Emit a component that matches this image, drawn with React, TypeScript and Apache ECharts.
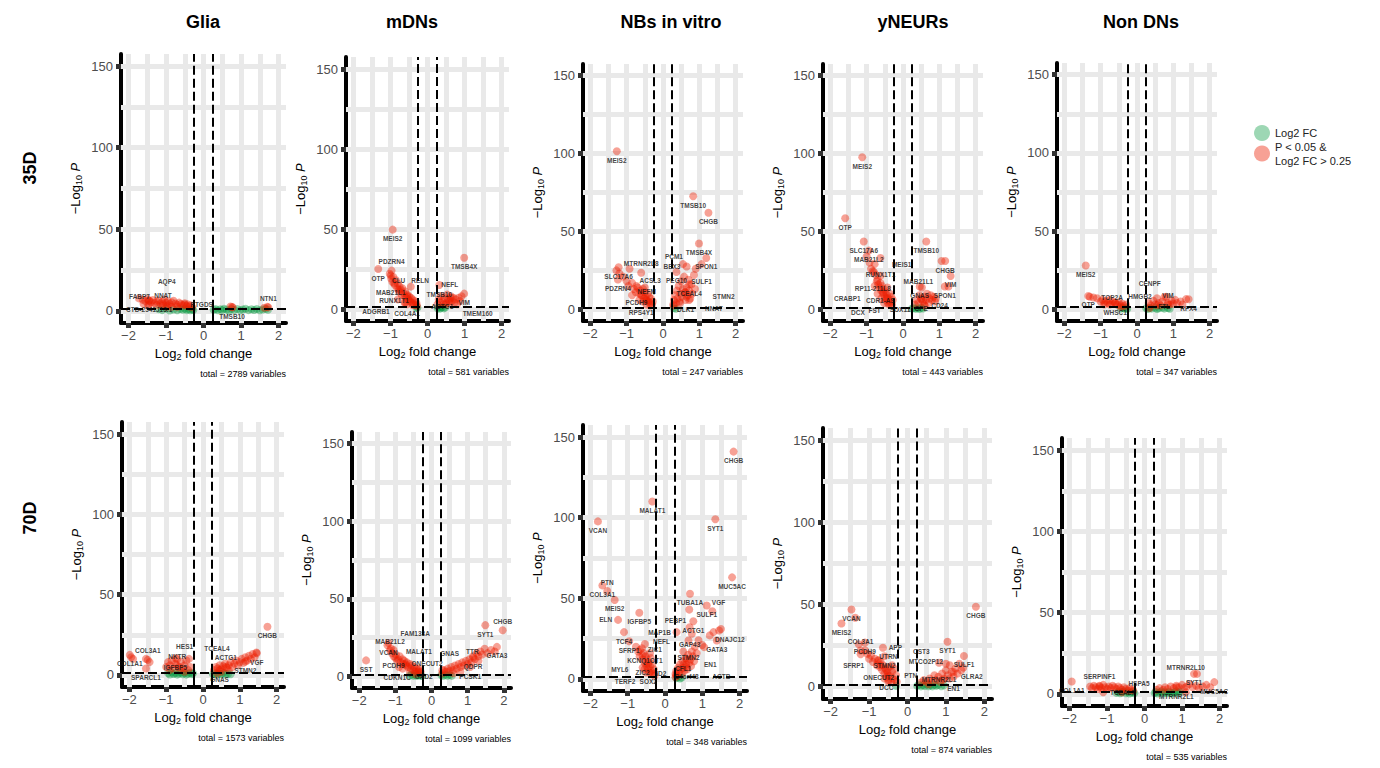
import React, { useEffect, useRef } from "react";
import * as echarts from "echarts";

type Pt = [number, number];
type Gene = [number, number, string];

const cellTypes = ["Glia", "mDNs", "NBs in vitro", "yNEURs", "Non DNs"];
const stages = ["35D", "70D"];
const totals = [2789, 581, 247, 443, 347, 1573, 1099, 348, 874, 535];
const xTicks = [-2, -1, 0, 1, 2];
const yTicks = [0, 50, 100, 150];
const xGridValues = [-2, -1.5, -1, -0.5, 0, 0.5, 1, 1.5, 2];
const yGridValues = [0, 25, 50, 75, 100, 125, 150];
const fcCut = 0.25;
const pCut = 1.3;
const legendNames = ["Log2 FC", "P < 0.05 &\nLog2 FC > 0.25"];

// ---------- Glia 35D ----------
const glia35Sig: Pt[] = [[-1.72,7.6],[-1.62,6.8],[-1.55,5.9],[-1.5,7.2],[-1.45,6.1],[-1.4,5.2],[-1.35,6.6],[-1.3,4.8],[-1.25,5.7],[-1.2,6.3],[-1.15,4.4],[-1.1,5.5],[-1.05,6.9],[-1.0,4.9],[-0.95,5.8],[-0.9,4.1],[-0.85,5.2],[-0.8,6.1],[-0.75,4.5],[-0.7,3.6],[-0.65,5.0],[-0.6,4.2],[-0.55,3.4],[-0.5,4.6],[-0.45,3.0],[-0.42,3.9],[-0.38,2.6],[-0.34,3.3],[-0.3,2.2],[-1.6,4.3],[-1.25,3.5],[-0.95,3.2],[-0.7,2.5],[-1.45,3.8],[-1.1,2.9],[-0.85,2.4],[0.72,2.6],[0.78,2.1],[1.7,2.4],[1.62,1.9]];
const glia35Fc: Pt[] = [[-1.2,1.0],[-1.1,0.4],[-1.0,1.3],[-0.9,0.2],[-0.8,0.8],[-0.7,0.3],[-0.62,1.1],[-0.55,0.6],[-0.5,1.2],[-0.45,0.4],[-0.4,0.9],[-0.35,0.3],[-0.3,1.0],[-0.27,0.5],[0.27,0.6],[0.32,1.1],[0.38,0.3],[0.45,0.9],[0.5,0.4],[0.55,1.2],[0.62,0.7],[0.68,0.2],[0.75,1.0],[0.82,0.5],[0.9,1.1],[0.98,0.3],[1.05,0.8],[1.12,1.2],[1.2,0.4],[1.28,0.9],[1.35,0.5],[1.42,1.1],[1.5,0.3],[1.58,0.8],[1.66,1.2],[1.72,0.6]];
const glia35Genes: Gene[] = [[-1.45,6.3,"CTD-2541J13.1"],[-1.48,3.2,"FABP7"],[-1.08,4.0,"NNAT"],[-0.98,2.4,"AQP4"],[-0.5,3.9,"PTGDS"],[0.76,2.3,"TMSB10"],[1.73,2.1,"NTN1"]];

// ---------- mDNs 35D ----------
const mdn35Sig: Pt[] = [[-1.02,22],[-0.98,19],[-0.95,17],[-0.92,20],[-0.88,15],[-0.85,18],[-0.82,13],[-0.8,16],[-0.77,11],[-0.75,14],[-0.72,12],[-0.7,9],[-0.68,13],[-0.65,10],[-0.62,8],[-0.6,11],[-0.58,7],[-0.55,9],[-0.52,6],[-0.5,8],[-0.48,5],[-0.45,7],[-0.43,4],[-0.4,6],[-0.38,3.5],[-0.35,5],[-0.33,2.5],[-0.3,4],[-0.28,2],[-0.45,14],[-0.62,4],[-0.8,6],[-0.55,3],[0.27,3],[0.3,6],[0.33,4],[0.36,8],[0.4,5],[0.43,3],[0.46,7],[0.5,4],[0.53,9],[0.56,6],[0.6,3.5],[0.63,8],[0.66,5],[0.7,7],[0.73,4],[0.76,6],[0.8,3],[0.84,7],[0.88,5],[0.92,8]];
const mdn35Fc: Pt[] = [[0.27,0.5],[0.3,1.1],[0.33,0.2],[0.36,0.8],[0.4,1.2],[0.44,0.4],[0.48,0.9],[-0.3,0.6],[-0.27,1.0]];
const mdn35Genes: Gene[] = [[-0.94,49.6,"MEIS2"],[-1.33,25,"OTP"],[0.99,32,"TMSB4X"],[0.32,15,"TMSB10"],[0.99,9.6,"VIM"],[0.63,7,"ACTG1"],[-0.97,24,"PDZRN4"],[-0.99,21,"MAB21L1"],[-0.9,16,"RUNX1T1"],[-0.78,12,"CLU"],[-0.55,8,"COL4A1"],[-0.6,4,"ADGRB1"],[-0.4,2.5,"RELN"],[0.5,3,"TMEM160"],[0.6,5,"NEFL"]];

// ---------- NBs in vitro 35D ----------
const nb35Sig: Pt[] = [[-1.28,25],[-1.2,23],[-1.1,21],[-0.92,26],[-1.0,18],[-0.95,15],[-0.85,17],[-0.8,13],[-0.75,11],[-0.7,14],[-0.65,10],[-0.62,12],[-0.58,9],[-0.55,13],[-0.52,7],[-0.5,11],[-0.48,8],[-0.45,6],[-0.42,10],[-0.4,5],[-0.38,8],[-0.35,4],[-0.33,7],[-0.3,3],[-0.28,5],[-0.45,3],[-0.55,5],[-0.65,6],[-0.85,9],[-0.5,14],[0.28,3],[0.3,6],[0.33,9],[0.36,4],[0.38,12],[0.4,7],[0.43,15],[0.45,5],[0.48,10],[0.5,18],[0.52,8],[0.55,13],[0.58,21],[0.6,11],[0.62,6],[0.65,14],[0.68,9],[0.7,19],[0.72,12],[0.75,7],[0.78,16],[0.8,10],[0.85,22],[0.88,13],[0.9,26],[0.55,29],[0.47,4]];
const nb35Fc: Pt[] = [[0.3,0.8],[0.35,0.4]];
const nb35Genes: Gene[] = [[-1.27,101.5,"MEIS2"],[0.83,72.6,"TMSB10"],[1.25,62,"CHGB"],[0.99,42.3,"TMSB4X"],[1.19,33,"SPON1"],[1.06,29,"SULF1"],[0.65,27.5,"BEX3"],[0.37,24,"PEG10"],[0.72,16,"TCEAL4"],[-1.22,27,"SLC17A6"],[-0.6,23.5,"MTRNR2L8"],[-1.24,19.2,"PDZRN4"],[-0.73,15,"PCDH9"],[-0.6,9,"RPS4Y1"],[-0.45,5.5,"NEFM"],[-0.35,2.5,"ACSL3"],[0.3,2.5,"PCM1"],[0.62,11,"DLK1"],[0.65,8,"STMN2"],[0.72,6,"NNAT"]];

// ---------- yNEURs 35D ----------
const yn35Sig: Pt[] = [[-1.0,34],[-0.92,30],[-0.88,26],[-0.8,24],[-0.75,22],[-0.7,19],[-0.68,16],[-0.65,14],[-0.62,17],[-0.6,12],[-0.58,15],[-0.55,10],[-0.53,13],[-0.5,8],[-0.48,11],[-0.46,6],[-0.44,9],[-0.42,4],[-0.4,7],[-0.38,3],[-0.36,10],[-0.34,5],[-0.32,8],[-0.3,3],[-0.28,6],[-0.52,4],[-0.6,7],[-0.7,10],[-0.43,14],[0.33,3],[0.38,6],[0.42,4],[0.45,9],[0.5,7],[0.52,14],[0.55,5],[0.6,8],[0.63,6],[0.66,10],[0.7,4],[0.73,7],[0.76,9],[0.8,6],[0.84,8],[0.88,5],[0.9,7],[0.58,3],[1.06,31],[1.25,14.6]];
const yn35Fc: Pt[] = [[0.25,0.5],[0.3,1.1],[0.35,0.3],[0.4,0.9],[0.45,0.2],[0.5,1.0],[0.55,0.5]];
const yn35Genes: Gene[] = [[-1.12,97.6,"MEIS2"],[-1.59,58.5,"OTP"],[-1.08,43.5,"SLC17A6"],[-0.94,37.7,"MAB21L2"],[-0.62,33,"RUNX1T1"],[-0.78,29,"MEIS1"],[-0.83,24.5,"RP11-211L8"],[-0.62,21.5,"CDR1-AS"],[-0.72,18,"MAB21L1"],[-0.78,15,"FST"],[-0.55,11,"SOX11"],[-0.45,7,"CRABP1"],[-0.35,4,"DCX"],[0.64,43.5,"TMSB10"],[1.16,31,"CHGB"],[1.31,21.4,"VIM"],[1.15,14.6,"SPON1"],[0.46,14.6,"GNAS"],[0.5,6.5,"CPE"],[0.6,2.5,"CD24"]];

// ---------- Non DNs 35D ----------
const nd35Sig: Pt[] = [[-1.3,8],[-1.2,7.5],[-1.1,7],[-1.0,5],[-0.95,6],[-0.9,4.5],[-0.85,5.5],[-0.8,4],[-0.75,6],[-0.7,3.5],[-0.65,5],[-0.6,4],[-0.55,3],[-0.5,4.5],[-0.45,2.5],[-0.4,3.5],[-0.35,2],[-0.3,3],[-0.75,3],[-0.9,3],[0.32,4],[0.38,2.5],[0.45,5.5],[0.5,3],[0.55,7],[0.6,4],[0.65,2.5],[0.7,5],[0.8,8],[0.85,4],[0.9,3],[0.95,5.5],[1.0,3.5],[1.05,6],[1.1,4],[1.2,5],[1.25,3],[1.35,6.5]];
const nd35Fc: Pt[] = [[-0.45,0.5],[-0.4,1.0],[-0.35,0.3],[-0.3,0.8],[-0.27,0.2],[0.25,0.6],[0.3,0.2],[0.35,1.0],[0.4,0.4],[0.5,0.9],[0.55,0.2],[0.6,0.7],[0.7,1.1],[0.75,0.4],[0.85,0.8],[0.9,0.3]];
const nd35Genes: Gene[] = [[-1.41,28,"MEIS2"],[-1.34,8.5,"OTP"],[-0.6,4,"WHSC1"],[-0.45,1.5,"TOP2A"],[0.75,7.7,"FTL"],[1.42,6.4,"RFX4"],[0.85,3,"VIM"],[0.55,2.5,"HMGB2"],[0.35,0.8,"CENPF"]];

// ---------- Glia 70D ----------
const glia70Sig: Pt[] = [[-1.95,11],[-1.9,10],[-1.55,10],[-1.45,8],[-1.0,5],[-0.95,8],[-0.9,6],[-0.85,9],[-0.8,4],[-0.75,7],[-0.7,10],[-0.65,5],[-0.6,8],[-0.55,4],[-0.5,6],[-0.45,9],[-0.4,3],[-0.38,10],[-0.35,5],[-0.9,3],[-0.62,3],[0.3,3],[0.35,5],[0.4,4],[0.45,6],[0.5,3.5],[0.55,5.5],[0.6,7],[0.65,4.5],[0.7,6],[0.75,8],[0.8,5],[0.85,7],[0.9,9],[0.95,6],[1.0,8],[1.05,10],[1.1,7.5],[1.15,11],[1.2,9],[1.25,12],[1.3,10],[1.35,13],[1.4,11],[1.45,14],[0.5,2],[0.7,3]];
const glia70Fc: Pt[] = [[-0.95,1.0],[-0.9,0.3],[-0.85,1.6],[-0.8,0.6],[-0.75,1.2],[-0.7,0.2],[-0.65,0.9],[-0.6,1.5],[-0.55,0.4],[-0.5,1.1],[-0.45,0.2],[-0.4,0.8],[-0.35,1.4],[-0.3,0.5],[-0.27,1.0],[0.27,0.4],[0.32,1.0],[0.38,0.2],[0.44,0.9],[0.5,0.5],[0.56,1.2],[0.62,0.3],[0.68,0.8],[0.75,0.4]];
const glia70Genes: Gene[] = [[-1.99,12.5,"COL1A1"],[-1.5,9.4,"COL3A1"],[-1.55,4,"SPARCL1"],[-0.75,10.4,"IGFBP5"],[-0.7,6,"NKTR"],[-0.5,2,"HES1"],[1.75,30,"CHGB"],[1.46,13.5,"VGF"],[1.15,8.3,"STMN2"],[0.62,5,"ACTG1"],[0.45,3,"GNAS"],[0.38,1,"TCEAL4"]];

// ---------- mDNs 70D ----------
const mdn70Sig: Pt[] = [[-1.22,20],[-1.12,18],[-1.1,15],[-1.05,17],[-1.0,12],[-0.98,14],[-0.92,11],[-0.88,13],[-0.85,9],[-0.8,11],[-0.78,8],[-0.75,10],[-0.7,7],[-0.68,9],[-0.65,6],[-0.6,8],[-0.58,5],[-0.55,7],[-0.5,4],[-0.48,6],[-0.45,3],[-0.42,5],[-0.38,3],[-0.35,4],[-0.32,2],[-0.3,3],[-0.6,3],[-0.8,5],[0.3,2],[0.35,4],[0.4,3],[0.45,5],[0.5,3.5],[0.55,6],[0.6,4],[0.65,7],[0.7,5],[0.75,8],[0.8,6],[0.85,9],[0.9,7],[0.95,10],[1.0,8],[1.05,11],[1.1,9],[1.15,13],[1.2,11],[1.25,15],[1.3,13],[1.35,16],[1.4,14],[1.47,17.8],[1.55,15],[1.65,17],[1.75,16],[0.6,2],[0.8,3]];
const mdn70Fc: Pt[] = [[-0.6,0.5],[-0.55,1.2],[-0.5,0.3],[-0.45,0.9],[-0.4,0.2],[-0.35,1.1],[-0.3,0.6],[-0.27,0.2],[0.27,0.8],[0.32,0.2],[0.38,1.0],[0.44,0.4],[0.5,0.9],[0.56,0.3]];
const mdn70Genes: Gene[] = [[-1.81,10.3,"SST"],[-1.19,21.5,"VCAN"],[-1.15,16.8,"MAB21L2"],[-1.05,13,"PCDH9"],[-0.95,10,"CDKN1C"],[-0.72,8,"ONECUT2"],[-0.9,6,"GAD2"],[-0.35,5,"MALAT1"],[-0.45,1.5,"FAM133A"],[0.3,4,"GNAS"],[1.49,33,"SYT1"],[1.97,29.7,"CHGB"],[1.81,19,"GATA3"],[1.15,12,"QDPR"],[1.3,10,"TTR"],[1.07,6,"PCSK1"]];

// ---------- NBs in vitro 70D ----------
const nb70Sig: Pt[] = [[-0.78,20],[-0.72,17],[-0.68,14],[-0.62,19],[-0.6,12],[-0.57,16],[-0.55,10],[-0.52,14],[-0.5,8],[-0.48,12],[-0.46,6],[-0.44,10],[-0.42,4],[-0.4,8],[-0.38,13],[-0.36,5],[-0.34,9],[-0.32,3],[-0.3,6],[-0.28,2],[-0.5,4],[-0.6,7],[-0.4,16],[0.28,3],[0.3,5],[0.33,2],[0.35,7],[0.38,4],[0.4,9],[0.42,6],[0.45,3],[0.47,11],[0.5,7],[0.52,5],[0.55,13],[0.57,9],[0.6,6],[0.62,15],[0.65,10],[0.68,12],[0.7,8],[0.72,17],[0.75,14],[0.78,11],[0.8,20],[0.85,16],[0.9,24],[1.0,21],[0.65,43],[0.72,28],[1.2,27],[1.3,29],[1.5,31]];
const nb70Fc: Pt[] = [[0.3,0.5],[0.35,1.0],[0.4,0.3],[0.45,0.8]];
const nb70Genes: Gene[] = [[1.84,141,"CHGB"],[-0.34,110,"MALAT1"],[-1.8,97.7,"VCAN"],[1.35,99,"SYT1"],[1.8,63,"MUC5AC"],[-1.68,58,"COL3A1"],[-1.55,54.5,"PTN"],[-1.35,49,"MEIS2"],[-0.69,41,"IGFBP5"],[-1.26,36.6,"ELN"],[-1.1,29,"TCF4"],[-0.96,23.4,"SFRP1"],[-0.54,21.7,"KCNQ1OT1"],[-0.67,18,"ZIC1"],[-0.6,14.5,"ZIC2"],[-0.45,9,"SOX2"],[-0.55,6,"MYL6"],[-0.35,4,"TERF2"],[0.67,52.8,"TUBA1A"],[1.12,45.5,"SULF1"],[1.27,42,"VGF"],[0.76,35.8,"ACTG1"],[0.66,32,"GAP43"],[0.31,29,"MAP1B"],[1.45,30,"DNAJC12"],[1.39,23.8,"GATA3"],[1.05,19.7,"EN1"],[0.63,23.8,"STMN2"],[0.49,17,"CFL1"],[0.58,11.8,"C4orf48"],[0.5,9,"ID2"],[0.58,7.2,"ACTB"],[0.3,2.5,"NEFL"],[0.28,1,"PEBP1"]];

// ---------- yNEURs 70D ----------
const yn70Sig: Pt[] = [[-1.36,42],[-1.27,25.8],[-1.22,19.7],[-1.1,22],[-1.05,20],[-1.0,17],[-0.95,19],[-0.9,15],[-0.85,17],[-0.8,13],[-0.78,16],[-0.72,12],[-0.7,15],[-0.66,10],[-0.63,13],[-0.6,8],[-0.58,11],[-0.55,6],[-0.52,9],[-0.5,4],[-0.48,12],[-0.45,7],[-0.42,3],[-0.4,9],[-0.38,5],[-0.35,11],[-0.33,4],[-0.3,7],[-0.28,3],[-0.4,13],[-0.6,5],[0.35,2.5],[0.42,4],[0.5,3],[0.58,5],[0.65,3.5],[0.7,7],[0.75,4],[0.8,6],[0.85,3],[0.9,8],[0.95,5],[1.0,10],[1.05,7],[1.1,13],[1.15,9],[1.2,6],[1.25,11],[1.3,8],[1.35,14],[1.4,10],[1.0,14],[0.92,4]];
const yn70Fc: Pt[] = [[-0.3,0.5],[0.25,0.5],[0.3,1.2],[0.35,0.2],[0.4,0.9],[0.45,0.4],[0.5,1.3],[0.55,0.3],[0.6,0.8],[0.65,0.2],[0.7,1.1],[0.75,0.5],[0.8,1.0],[0.88,0.3],[0.95,0.8]];
const yn70Genes: Gene[] = [[-1.46,47,"VCAN"],[-1.72,38.5,"MEIS2"],[1.78,48.7,"CHGB"],[1.04,27.4,"SYT1"],[-1.11,26.8,"PCDH9"],[-1.22,22,"COL3A1"],[-0.64,23.7,"APP"],[-0.6,18.5,"STMN2"],[-0.75,16,"ONECUT2"],[-0.7,13,"SFRP1"],[-0.55,10,"DCC"],[-0.5,7,"PTN"],[-0.5,3,"UTRN"],[1.47,18.7,"SULF1"],[0.82,14.6,"MTRNR2L1"],[1.45,11.6,"GLRA2"],[1.2,9,"EN1"],[1.1,5,"MTCO2P12"],[0.55,1.5,"CST3"]];

// ---------- Non DNs 70D ----------
const nd70Sig: Pt[] = [[-1.45,4.5],[-1.4,3.5],[-1.35,5],[-1.3,4],[-1.25,3],[-1.2,4.5],[-1.15,3.5],[-1.1,5.5],[-1.05,4],[-1.0,3],[-0.95,4.5],[-0.9,3.5],[-0.85,5],[-0.8,4],[-0.75,3],[-0.7,4.5],[-0.65,3.5],[-0.6,2.5],[-0.55,4],[-0.5,3],[-0.45,2],[-0.4,3.5],[-0.35,2.5],[-0.3,2],[0.32,2.5],[0.4,3.5],[0.5,2.5],[0.55,4],[0.62,3],[0.7,4.5],[0.78,3.5],[0.85,5],[0.92,4],[1.0,5.5],[1.05,3.5],[1.12,4.5],[1.2,6],[1.28,4],[1.38,5],[1.45,3.5],[1.55,4.5],[1.65,5.5],[1.75,4],[1.4,12.3]];
const nd70Fc: Pt[] = [[-0.75,0.6],[-0.7,1.2],[-0.65,0.3],[-0.6,0.9],[-0.55,1.5],[-0.5,0.4],[-0.45,1.0],[-0.4,0.2],[-0.35,0.8],[-0.3,1.3],[-0.27,0.4],[0.27,0.5],[0.3,1.2],[0.35,0.2],[0.4,0.9],[0.45,1.5],[0.5,0.4],[0.55,1.0],[0.6,0.3],[0.65,1.3],[0.7,0.7],[0.75,0.2],[0.8,1.0],[0.85,1.6],[0.9,0.6],[0.95,1.2]];
const nd70Genes: Gene[] = [[-1.94,7.6,"COL1A1"],[1.32,12.3,"SYT1"],[1.86,7.2,"MUC5AC"],[-1.2,5,"SERPINF1"],[-1.1,1,"TCEAL7"],[-0.6,1,"HSPA5"],[0.85,4,"MTRNR2L1"],[1.1,1,"MTRNR2L10"]];

const panels = [
  { sig: glia35Sig, fc: glia35Fc, genes: glia35Genes },
  { sig: mdn35Sig, fc: mdn35Fc, genes: mdn35Genes },
  { sig: nb35Sig, fc: nb35Fc, genes: nb35Genes },
  { sig: yn35Sig, fc: yn35Fc, genes: yn35Genes },
  { sig: nd35Sig, fc: nd35Fc, genes: nd35Genes },
  { sig: glia70Sig, fc: glia70Fc, genes: glia70Genes },
  { sig: mdn70Sig, fc: mdn70Fc, genes: mdn70Genes },
  { sig: nb70Sig, fc: nb70Fc, genes: nb70Genes },
  { sig: yn70Sig, fc: yn70Fc, genes: yn70Genes },
  { sig: nd70Sig, fc: nd70Fc, genes: nd70Genes },
];

// layout (pixel boxes of the plotting panels)
const boxes = [
  { left: 121, top: 54, width: 165, height: 269 },
  { left: 346, top: 57, width: 163, height: 264 },
  { left: 583, top: 64, width: 160, height: 257 },
  { left: 823, top: 64, width: 160, height: 257 },
  { left: 1057, top: 63, width: 160, height: 258 },
  { left: 122, top: 422, width: 162, height: 265 },
  { left: 352, top: 432, width: 159, height: 256 },
  { left: 583, top: 425, width: 164, height: 266 },
  { left: 823, top: 428, width: 169, height: 271 },
  { left: 1062, top: 438, width: 165, height: 268 },
];
const titleX = [203, 412, 671, 913, 1141];
const rowY = [168, 518];

const X_MIN = -2.2, X_MAX = 2.2, Y_MIN = -7.5, Y_MAX = 157.5;
const FONT = "Arial, 'Liberation Sans', sans-serif";
const RED = "rgba(236, 28, 0, 0.52)";
const GREEN = "rgba(0, 150, 60, 0.48)";
const LABEL_SIZE = 6.5;

const minus = (v: number) => (v < 0 ? "\u2212" + Math.abs(v) : String(v));

// simple greedy label repulsion (ggrepel-like), computed in pixels
function repel(genes: Gene[], b: { left: number; top: number; width: number; height: number }) {
  const toPx = (x: number, y: number) => [
    b.left + ((x - X_MIN) / (X_MAX - X_MIN)) * b.width,
    b.top + ((Y_MAX - y) / (Y_MAX - Y_MIN)) * b.height,
  ];
  const placed: { x0: number; x1: number; y0: number; y1: number }[] = [];
  const order = genes.map((g, i) => i).sort((a, c) => genes[c][1] - genes[a][1]);
  const offsets: [number, number][] = new Array(genes.length);
  const h = 7.5;
  const dys = [9, -9, 0, 17, -17, 25, -25, 33, -33, 41, -41, 49, -49, 57, -57];
  for (const idx of order) {
    const g = genes[idx];
    const [px, py] = toPx(g[0], g[1]);
    const w = g[2].length * 4.6 + 1;
    const sx = w / 2 + 5;
    const dxs = [0, -sx * 0.5, sx * 0.5, -sx, sx, -sx - 10, sx + 10, -sx - 20, sx + 20];
    const cands: [number, number][] = [];
    dys.forEach((dy) => dxs.forEach((dx) => cands.push([dx, dy])));
    const score = (c: [number, number]) => Math.abs(c[0]) * 0.8 + Math.abs(c[1]) + (c[1] < 0 ? 2 : 0);
    cands.sort((a, c) => score(a) - score(c));
    let chosen: [number, number] | null = null;
    for (const [dx, dy] of cands) {
      const cx = px + dx, cy = py + dy;
      const r = { x0: cx - w / 2, x1: cx + w / 2, y0: cy - h / 2, y1: cy + h / 2 };
      // never cover the labelled point itself
      if (r.x0 < px + 4 && r.x1 > px - 4 && r.y0 < py + 4 && r.y1 > py - 4) continue;
      if (r.y1 > b.top + b.height - 3 || r.y0 < b.top + 2) continue;
      if (r.x0 < b.left - 2 && dx !== 0) continue;
      if (r.x1 > b.left + b.width + 2) continue;
      const hit = placed.some((q) => r.x0 < q.x1 + 1 && r.x1 > q.x0 - 1 && r.y0 < q.y1 + 0.5 && r.y1 > q.y0 - 0.5);
      if (!hit) { chosen = [dx, dy]; placed.push(r); break; }
    }
    if (!chosen) {
      chosen = [0, 9];
      placed.push({ x0: px - w / 2, x1: px + w / 2, y0: py + 9 - h / 2, y1: py + 9 + h / 2 });
    }
    offsets[idx] = chosen;
  }
  return offsets;
}

function buildOption() {
  const grid: any[] = [];
  const xAxis: any[] = [];
  const yAxis: any[] = [];
  const series: any[] = [];
  const graphic: any[] = [];

  const nameRich = {
    n: { fontSize: 13, fontFamily: FONT, color: "#000" },
    s: { fontSize: 9, fontFamily: FONT, color: "#000", padding: [7, 0, 0, 0] },
    i: { fontSize: 13, fontFamily: FONT, color: "#000", fontStyle: "italic" },
  };

  panels.forEach((p, i) => {
    const b = boxes[i];
    grid.push({ left: b.left, top: b.top, width: b.width, height: b.height });
    xAxis.push({
      gridIndex: i, type: "value", min: X_MIN, max: X_MAX,
      axisLine: { show: true, onZero: false, lineStyle: { color: "#000", width: 4 } },
      axisTick: { show: true, customValues: xTicks, length: 5, lineStyle: { color: "#333", width: 5 } },
      axisLabel: { customValues: xTicks, formatter: minus, color: "#4d4d4d", fontSize: 13, fontFamily: FONT, margin: 6 },
      splitLine: { show: false },
      name: "{n|Log}{s|2}{n| fold change}", nameLocation: "middle", nameGap: 22,
      nameTextStyle: { rich: nameRich },
    });
    yAxis.push({
      gridIndex: i, type: "value", min: Y_MIN, max: Y_MAX,
      axisLine: { show: true, onZero: false, lineStyle: { color: "#000", width: 4 } },
      axisTick: { show: true, customValues: yTicks, length: 5, lineStyle: { color: "#333", width: 5 } },
      axisLabel: { customValues: yTicks, color: "#4d4d4d", fontSize: 13, fontFamily: FONT, margin: 8 },
      splitLine: { show: false },
      name: "{n|\u2212Log}{s|10}{i| P}", nameLocation: "middle", nameRotate: 90, nameGap: 38,
      nameTextStyle: { rich: nameRich },
    });

    const gridLines = [
      ...xGridValues.map((v) => ({ coords: [[v, Y_MIN], [v, Y_MAX]] })),
      ...yGridValues.map((v) => ({ coords: [[X_MIN, v], [X_MAX, v]] })),
    ];
    series.push({
      type: "lines", coordinateSystem: "cartesian2d", xAxisIndex: i, yAxisIndex: i,
      z: 1, silent: true, data: gridLines,
      lineStyle: { color: "#e9e9e9", width: 5, opacity: 1 },
    });
    series.push({
      name: legendNames[0], type: "scatter", xAxisIndex: i, yAxisIndex: i, z: 2,
      symbolSize: 8, itemStyle: { color: GREEN }, data: p.fc,
    });
    series.push({
      name: legendNames[1], type: "scatter", xAxisIndex: i, yAxisIndex: i, z: 2,
      symbolSize: 8, itemStyle: { color: RED },
      data: [...p.sig, ...p.genes.map((g) => [g[0], g[1]])],
    });
    const thr = [
      ...[-fcCut, fcCut].flatMap((v) => [
        { coords: [[v, pCut], [v, Y_MAX]] },
        { coords: [[v, Y_MIN], [v, pCut]], lineStyle: { type: "solid" } },
      ]),
      { coords: [[X_MIN, pCut], [X_MAX, pCut]] },
    ];
    series.push({
      type: "lines", coordinateSystem: "cartesian2d", xAxisIndex: i, yAxisIndex: i,
      z: 3, silent: true, data: thr,
      lineStyle: { color: "#000", width: 2, type: [9, 4], opacity: 1 },
    });
    const offs = repel(p.genes, b);
    series.push({
      name: "genes", type: "scatter", xAxisIndex: i, yAxisIndex: i, z: 4, silent: true,
      symbolSize: 8, itemStyle: { color: "rgba(0,0,0,0)" },
      data: p.genes.map((g, k) => ({
        value: [g[0], g[1]], name: g[2],
        label: { offset: offs[k] },
      })),
      label: {
        show: true, position: "inside", formatter: "{b}",
        fontSize: LABEL_SIZE, fontWeight: "bold", color: "#111", fontFamily: FONT,
      },
    });

    graphic.push({
      type: "text", x: b.left + b.width, y: b.top + b.height + 51,
      style: { text: `total = ${totals[i]} variables`, fontSize: 9, fill: "#000", fontFamily: FONT, align: "right", verticalAlign: "middle" },
    });
  });

  cellTypes.forEach((t, j) => {
    graphic.push({
      type: "text", x: titleX[j], y: 22,
      style: { text: t, fontSize: 18, fontWeight: "bold", fill: "#000", fontFamily: FONT, align: "center", verticalAlign: "middle" },
    });
  });
  stages.forEach((s, j) => {
    graphic.push({
      type: "text", x: 30, y: rowY[j], rotation: Math.PI / 2,
      style: { text: s, fontSize: 18, fontWeight: "bold", fill: "#000", fontFamily: FONT, align: "center", verticalAlign: "middle" },
    });
  });

  return {
    animation: false,
    backgroundColor: "#fff",
    grid, xAxis, yAxis, series, graphic,
    legend: {
      data: [
        { name: legendNames[0] },
        { name: legendNames[1], textStyle: { padding: [13, 0, 0, 0] } },
      ],
      orient: "vertical", left: 1249, top: 120,
      icon: "circle", itemWidth: 16, itemHeight: 16, itemGap: -8,
      textStyle: { fontSize: 11, fontFamily: FONT, color: "#222", lineHeight: 14 },
      selectedMode: false,
    },
  };
}

export default function App() {
  const ref = useRef<HTMLDivElement>(null);
  useEffect(() => {
    if (!ref.current) return;
    const chart = echarts.init(ref.current, undefined, { renderer: "svg" });
    chart.setOption(buildOption() as any);
    return () => chart.dispose();
  }, []);
  return (
    <div
      ref={ref}
      style={{ position: "absolute", left: 0, top: 0, width: 1380, height: 768, background: "#fff" }}
    />
  );
}
